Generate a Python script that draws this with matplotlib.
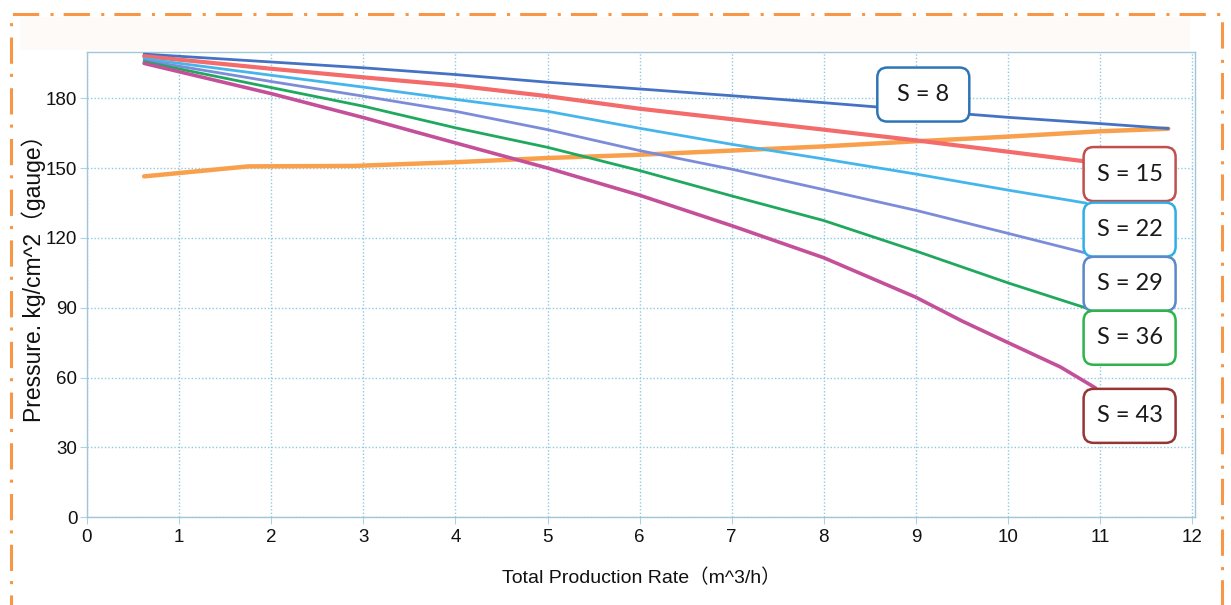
import matplotlib
matplotlib.use('Agg')
import matplotlib.pyplot as plt
from matplotlib.patches import FancyBboxPatch, Rectangle

# pump curves: pressure vs total production rate for each stage count S
rate_s8 = [0.62, 2, 3, 4, 5, 6, 7, 8, 9, 10, 11, 11.74]
pres_s8 = [199.1, 195.7, 193.2, 190.3, 187.0, 184.1, 181.2, 178.2, 175.0, 171.9, 169.2, 167.1]

rate_s15 = [0.62, 2, 3, 4, 5, 6, 7, 8, 9, 10, 10.85]
pres_s15 = [198.2, 192.8, 189.1, 185.6, 181.0, 175.6, 171.1, 166.6, 162.0, 157.1, 152.9]

rate_s22 = [0.62, 2, 3, 4, 5, 6, 7, 8, 9, 10, 10.85]
pres_s22 = [197.1, 190.0, 184.9, 179.6, 174.5, 167.2, 160.3, 154.0, 147.5, 140.6, 135.0]

rate_s29 = [0.62, 2, 3, 4, 5, 6, 7, 8, 9, 10, 10.85]
pres_s29 = [196.4, 187.3, 181.0, 174.5, 166.6, 157.6, 149.6, 140.8, 131.9, 122.0, 113.5]

rate_s36 = [0.62, 2, 3, 4, 5, 6, 7, 8, 9, 10, 10.87]
pres_s36 = [195.8, 184.7, 176.7, 167.4, 159.0, 149.0, 138.1, 127.5, 114.4, 100.7, 89.6]

rate_s43 = [0.62, 2, 3, 4, 5, 6, 7, 8, 9, 9.5, 10, 10.57, 10.95]
pres_s43 = [195.1, 182.1, 171.8, 160.9, 150.1, 138.4, 125.3, 111.5, 94.5, 84.3, 75.0, 64.5, 55.5]

# operating limit curve (orange)
rate_limit = [0.62, 1.75, 2.9, 4, 5, 6, 7, 8, 9, 10, 11, 11.74]
pres_limit = [146.5, 150.8, 151.0, 152.6, 154.4, 155.8, 157.6, 159.4, 161.6, 163.6, 165.9, 167.0]

labels = ['S = 8', 'S = 15', 'S = 22', 'S = 29', 'S = 36', 'S = 43']

series = [
    (rate_s8, pres_s8, '#4672C4', 2.0),
    (rate_s15, pres_s15, '#F36B6B', 3.0),
    (rate_s22, pres_s22, '#45B6EC', 2.0),
    (rate_s29, pres_s29, '#7C8CD8', 2.0),
    (rate_s36, pres_s36, '#1FA85E', 2.0),
    (rate_s43, pres_s43, '#C4509A', 2.6),
]

# label box centres (data coords) and edge colours
label_pos = [(9.08, 181.7), (11.32, 147.5), (11.32, 123.6),
             (11.32, 100.3), (11.32, 77.1), (11.32, 43.5)]
box_colors = ['#2E75B6', '#C0504D', '#2FAEE6', '#5B88C8', '#2DB34A', '#943634']

W, H = 1231, 605
fig = plt.figure(figsize=(W / 100, H / 100), dpi=100)
fig.patch.set_facecolor('white')

# faint cream band of the pasted chart image
fig.add_artist(Rectangle((20 / W, 1 - 50 / H), 1170 / W, 33 / H,
                         transform=fig.transFigure, facecolor='#FEFAF7',
                         edgecolor='none', zorder=0))

# orange dash-dot frame
fig.add_artist(Rectangle((11 / W, -0.05), (1222 - 11) / W, 0.05 + 1 - 14 / H,
                         transform=fig.transFigure, fill=False,
                         edgecolor='#F79646', linewidth=2.2,
                         linestyle=(0, (8.6, 3.3, 1.0, 3.7)), zorder=1))

left, right, bottom, top = 87, 1195, 517, 52
ax = fig.add_axes([left / W, 1 - bottom / H, (right - left) / W, (bottom - top) / H])
ax.set_facecolor('white')
ax.set_xlim(0, 12.03)
ax.set_ylim(0, 200)

ax.plot(rate_limit, pres_limit, color='#F8A04C', lw=3.2, solid_capstyle='round', zorder=3)
for xs, ys, c, lw in series:
    ax.plot(xs, ys, color=c, lw=lw, solid_capstyle='round', zorder=3)

ax.set_xticks(range(0, 13))
ax.set_yticks(range(0, 181, 30))
ax.grid(True, color='#8FCAE3', linestyle=(0, (1, 1.5)), linewidth=1.0, zorder=1)
for s in ax.spines.values():
    s.set_color('#A3C6D6')
    s.set_linewidth(1.0)

label_font = ['Liberation Sans', 'Noto Sans CJK SC']
ax.tick_params(axis='both', length=5, color='#A9D3E6', labelsize=13.5, labelcolor='#111111')
ax.tick_params(axis='x', pad=4)
ax.tick_params(axis='y', pad=2)
for lab in ax.get_xticklabels() + ax.get_yticklabels():
    lab.set_family('Liberation Sans')

ax.set_xlabel('Total Production Rate（m^3/h）', fontsize=14,
              family=label_font, color='#111111', labelpad=16)
ax.set_ylabel('Pressure. kg/cm^2（gauge）', fontsize=16.5,
              family=label_font, color='#111111')
ax.yaxis.set_label_coords(-0.037, 0.525)

# rounded label boxes, fixed pixel size
xpp = 12.03 / (right - left)      # data units per pixel, x
ypp = 200 / (bottom - top)        # data units per pixel, y
bw, bh = 92 * xpp, 54 * ypp
for (cx, cy), txt, ec in zip(label_pos, labels, box_colors):
    box = FancyBboxPatch((cx - bw / 2, cy - bh / 2), bw, bh,
                         boxstyle='round,pad=0,rounding_size=%f' % (10 * xpp),
                         mutation_aspect=ypp / xpp,
                         facecolor='white', edgecolor=ec, linewidth=1.8,
                         zorder=5, clip_on=False)
    ax.add_patch(box)
    ax.text(cx, cy, txt, ha='center', va='center', fontsize=17,
            family=['Lato', 'DejaVu Sans'], color='#1a1a1a', zorder=6)

fig.savefig('out.png', dpi=100)
plt.close(fig)
